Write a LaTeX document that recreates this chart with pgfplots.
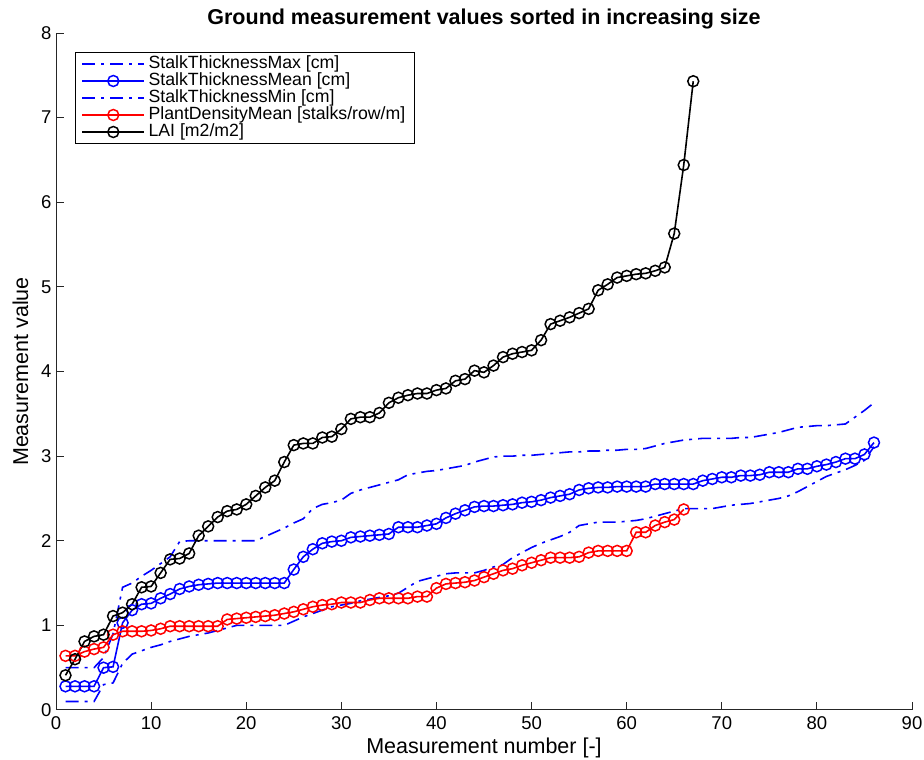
\documentclass[border=0pt]{standalone}
\usepackage{pgfplots}
\pgfplotsset{compat=1.18}
\usepackage{fontspec}
\setmainfont{Liberation Sans}
\definecolor{axgray}{gray}{0.15}
\begin{document}
\begin{tikzpicture}
\useasboundingbox (-56pt,-50pt) rectangle (868pt,710pt);
\begin{axis}[
  scale only axis, width=856pt, height=677pt,
  xmin=0, xmax=90, ymin=0, ymax=8,
  xtick={0,10,...,90}, ytick={0,1,...,8},
  axis x line*=bottom, axis y line*=left,
  axis line style={-, axgray, line width=1pt},
  tick style={axgray, line width=1pt},
  tick align=inside, major tick length=8pt,
  /pgf/number format/assume math mode=true,
  ticklabel style={font=\fontsize{18.5}{20}\selectfont, text=black},
  xticklabel style={yshift=-3pt},
  yticklabel style={xshift=-1pt},
  xlabel={Measurement number [-]},
  ylabel={Measurement value},
  label style={font=\fontsize{21.5}{23}\selectfont},
  xlabel style={yshift=-1pt},
  ylabel style={yshift=6pt},
  title={\textbf{Ground measurement values sorted in increasing size}},
  title style={font=\fontsize{21.5}{23}\selectfont, yshift=-6pt},
  legend style={
    at={(0,1)}, anchor=north west, xshift=19pt, yshift=-19pt,
    draw=black, line width=1pt,
    font=\fontsize{17.7}{17}\selectfont,
    inner xsep=6pt, inner ysep=3pt, row sep=0pt,
    nodes={inner xsep=3.5pt, inner ysep=0pt, text height=12.5pt, text depth=4.5pt},
  },
  legend cell align=left,
  legend image code/.code={\draw[mark repeat=2,mark phase=2,#1] plot coordinates {(0pt,0pt) (31pt,0pt) (62pt,0pt)};},
  every axis plot/.append style={line width=1.6pt},
  mark options={solid, line width=1.5pt},
  mark size=5.5pt,
]
\addplot[blue, dash pattern=on 13pt off 6pt on 3pt off 6pt, no markers] coordinates {
(1,0.50)(2,0.50)(3,0.50)(4,0.50)(5,0.62)(6,0.90)(7,1.45)(8,1.50)(9,1.58)(10,1.65)
(11,1.73)(12,1.81)(13,1.99)(14,2.00)(15,2.00)(16,2.00)(17,2.00)(18,2.00)(19,2.00)(20,2.00)
(21,2.00)(22,2.05)(23,2.10)(24,2.15)(25,2.21)(26,2.26)(27,2.38)(28,2.43)(29,2.45)(30,2.48)
(31,2.56)(32,2.60)(33,2.63)(34,2.66)(35,2.69)(36,2.72)(37,2.78)(38,2.80)(39,2.82)(40,2.83)
(41,2.85)(42,2.87)(43,2.89)(44,2.93)(45,2.96)(46,2.99)(47,3.00)(48,3.00)(49,3.01)(50,3.01)
(51,3.02)(52,3.03)(53,3.04)(54,3.05)(55,3.05)(56,3.06)(57,3.06)(58,3.07)(59,3.07)(60,3.08)
(61,3.08)(62,3.09)(63,3.12)(64,3.15)(65,3.17)(66,3.19)(67,3.20)(68,3.21)(69,3.21)(70,3.21)
(71,3.21)(72,3.22)(73,3.22)(74,3.24)(75,3.26)(76,3.28)(77,3.31)(78,3.34)(79,3.35)(80,3.36)
(81,3.36)(82,3.37)(83,3.38)(84,3.46)(85,3.54)(86,3.63)};
\addlegendentry{StalkThicknessMax [cm]}
\addplot[blue, solid, mark=o] coordinates {
(1,0.28)(2,0.28)(3,0.28)(4,0.28)(5,0.50)(6,0.51)(7,1.03)(8,1.18)(9,1.25)(10,1.26)
(11,1.32)(12,1.37)(13,1.43)(14,1.46)(15,1.48)(16,1.49)(17,1.50)(18,1.50)(19,1.50)(20,1.50)
(21,1.50)(22,1.50)(23,1.50)(24,1.50)(25,1.66)(26,1.81)(27,1.90)(28,1.97)(29,1.99)(30,2.00)
(31,2.04)(32,2.05)(33,2.06)(34,2.07)(35,2.08)(36,2.16)(37,2.16)(38,2.16)(39,2.18)(40,2.20)
(41,2.27)(42,2.32)(43,2.36)(44,2.40)(45,2.41)(46,2.41)(47,2.42)(48,2.43)(49,2.45)(50,2.46)
(51,2.48)(52,2.51)(53,2.53)(54,2.55)(55,2.60)(56,2.62)(57,2.63)(58,2.63)(59,2.64)(60,2.64)
(61,2.64)(62,2.64)(63,2.67)(64,2.67)(65,2.67)(66,2.67)(67,2.67)(68,2.71)(69,2.73)(70,2.75)
(71,2.75)(72,2.77)(73,2.77)(74,2.78)(75,2.81)(76,2.81)(77,2.81)(78,2.85)(79,2.85)(80,2.88)
(81,2.90)(82,2.93)(83,2.97)(84,2.97)(85,3.02)(86,3.16)};
\addlegendentry{StalkThicknessMean [cm]}
\addplot[blue, dash pattern=on 13pt off 6pt on 3pt off 6pt, no markers] coordinates {
(1,0.10)(2,0.10)(3,0.10)(4,0.10)(5,0.30)(6,0.32)(7,0.55)(8,0.66)(9,0.70)(10,0.74)
(11,0.77)(12,0.81)(13,0.84)(14,0.87)(15,0.89)(16,0.91)(17,0.94)(18,0.97)(19,1.00)(20,1.00)
(21,1.00)(22,1.00)(23,1.00)(24,1.00)(25,1.05)(26,1.10)(27,1.14)(28,1.18)(29,1.22)(30,1.24)
(31,1.26)(32,1.29)(33,1.31)(34,1.33)(35,1.35)(36,1.38)(37,1.45)(38,1.52)(39,1.55)(40,1.58)
(41,1.61)(42,1.62)(43,1.62)(44,1.62)(45,1.65)(46,1.69)(47,1.72)(48,1.80)(49,1.86)(50,1.92)
(51,1.97)(52,2.01)(53,2.05)(54,2.10)(55,2.18)(56,2.20)(57,2.22)(58,2.22)(59,2.22)(60,2.23)
(61,2.24)(62,2.26)(63,2.29)(64,2.32)(65,2.35)(66,2.38)(67,2.38)(68,2.38)(69,2.38)(70,2.40)
(71,2.42)(72,2.43)(73,2.44)(74,2.46)(75,2.48)(76,2.50)(77,2.53)(78,2.58)(79,2.64)(80,2.70)
(81,2.76)(82,2.80)(83,2.84)(84,2.89)(85,2.95)(86,3.11)};
\addlegendentry{StalkThicknessMin [cm]}
\addplot[red, solid, mark=o] coordinates {
(1,0.64)(2,0.64)(3,0.69)(4,0.72)(5,0.74)(6,0.89)(7,0.93)(8,0.93)(9,0.93)(10,0.94)
(11,0.96)(12,0.99)(13,0.99)(14,0.99)(15,0.99)(16,0.99)(17,0.99)(18,1.07)(19,1.08)(20,1.09)
(21,1.10)(22,1.11)(23,1.12)(24,1.14)(25,1.16)(26,1.19)(27,1.22)(28,1.24)(29,1.25)(30,1.27)
(31,1.27)(32,1.27)(33,1.30)(34,1.32)(35,1.32)(36,1.32)(37,1.32)(38,1.34)(39,1.34)(40,1.44)
(41,1.49)(42,1.50)(43,1.51)(44,1.53)(45,1.57)(46,1.61)(47,1.65)(48,1.67)(49,1.71)(50,1.74)
(51,1.77)(52,1.80)(53,1.80)(54,1.80)(55,1.81)(56,1.86)(57,1.88)(58,1.88)(59,1.88)(60,1.88)
(61,2.10)(62,2.10)(63,2.18)(64,2.22)(65,2.25)(66,2.37)};
\addlegendentry{PlantDensityMean [stalks/row/m]}
\addplot[black, solid, mark=o] coordinates {
(1,0.41)(2,0.60)(3,0.81)(4,0.87)(5,0.89)(6,1.11)(7,1.15)(8,1.25)(9,1.45)(10,1.46)
(11,1.62)(12,1.78)(13,1.79)(14,1.85)(15,2.06)(16,2.17)(17,2.28)(18,2.35)(19,2.37)(20,2.43)
(21,2.53)(22,2.63)(23,2.71)(24,2.93)(25,3.13)(26,3.15)(27,3.15)(28,3.22)(29,3.23)(30,3.32)
(31,3.44)(32,3.46)(33,3.46)(34,3.51)(35,3.63)(36,3.69)(37,3.72)(38,3.74)(39,3.74)(40,3.78)
(41,3.80)(42,3.89)(43,3.91)(44,4.01)(45,3.99)(46,4.07)(47,4.17)(48,4.21)(49,4.23)(50,4.25)
(51,4.37)(52,4.56)(53,4.60)(54,4.64)(55,4.69)(56,4.74)(57,4.96)(58,5.03)(59,5.11)(60,5.13)
(61,5.15)(62,5.16)(63,5.19)(64,5.23)(65,5.63)(66,6.44)(67,7.43)};
\addlegendentry{LAI [m2/m2]}
\end{axis}
\end{tikzpicture}
\end{document}
